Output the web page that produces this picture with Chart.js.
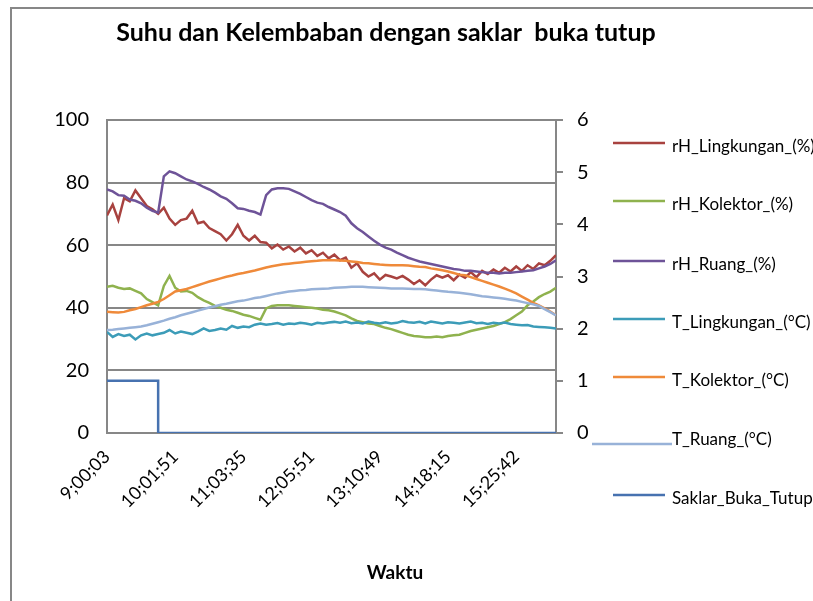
<!DOCTYPE html>
<html>
<head>
<meta charset="utf-8">
<script src="https://cdn.jsdelivr.net/npm/chart.js@4.4.0/dist/chart.umd.min.js"></script>
<style>
  html, body { margin: 0; padding: 0; background: #fff; }
</style>
</head>
<body>
<canvas id="chart" width="813" height="601"></canvas>
<script>
// time labels shown on the x axis, one every 12 samples
var tickLabels = ['9;00;03', '10;01;51', '11;03;35', '12;05;51', '13;10;49', '14;18;15', '15;25;42'];
var tickEvery = 12;

var rhLingkungan = [69.5, 73.0, 68.0, 75.0, 74.0, 77.5, 75.0, 72.5, 71.5, 70.0,
  72.0, 68.5, 66.5, 68.0, 68.5, 71.0, 67.0, 67.5, 65.5, 64.5,
  63.5, 61.5, 63.5, 66.5, 63.0, 61.5, 63.0, 61.0, 60.8, 59.0,
  60.2, 58.6, 59.6, 58.0, 59.2, 57.4, 58.4, 56.6, 57.6, 55.8,
  57.0, 55.2, 56.0, 52.8, 54.2, 51.5, 50.0, 51.0, 49.0, 50.5,
  50.0, 49.4, 50.2, 49.0, 47.6, 48.8, 47.2, 49.0, 50.4, 49.6,
  50.4, 48.8, 50.6, 49.6, 51.4, 49.8, 51.8, 50.8, 52.2, 51.2,
  52.8, 51.6, 53.2, 51.8, 53.6, 52.4, 54.2, 53.6, 55.0, 56.8];

var rhKolektor = [46.7, 47.0, 46.4, 46.0, 46.2, 45.4, 44.6, 42.8, 41.8, 40.8,
  47.0, 50.2, 46.4, 45.2, 45.4, 44.8, 43.4, 42.4, 41.6, 40.6,
  40.0, 39.4, 39.0, 38.4, 37.8, 37.4, 36.8, 36.2, 39.8, 40.6,
  40.8, 40.8, 40.8, 40.6, 40.4, 40.2, 40.0, 39.8, 39.4, 39.2,
  38.8, 38.2, 37.6, 36.6, 35.8, 35.4, 35.0, 34.8, 34.2, 33.6,
  33.2, 32.6, 32.0, 31.4, 31.0, 30.8, 30.6, 30.6, 30.8, 30.6,
  31.0, 31.2, 31.4, 32.0, 32.6, 33.0, 33.4, 33.8, 34.2, 34.8,
  35.4, 36.4, 37.6, 38.8, 40.8, 42.0, 43.4, 44.4, 45.2, 46.4];

var rhRuang = [77.8, 77.2, 76.0, 75.8, 74.6, 74.2, 73.4, 72.0, 71.0, 70.4,
  82.0, 83.6, 83.0, 82.0, 81.0, 80.4, 79.6, 78.6, 77.8, 76.8,
  75.6, 74.8, 73.4, 71.8, 71.6, 71.0, 70.6, 69.8, 76.0, 77.8,
  78.2, 78.2, 78.0, 77.2, 76.4, 75.4, 74.4, 73.6, 73.2, 72.2,
  71.4, 70.6, 69.4, 67.0, 65.4, 64.2, 62.8, 61.4, 60.2, 59.2,
  58.6, 57.6, 56.8, 56.0, 55.4, 54.8, 54.4, 54.0, 53.6, 53.2,
  52.8, 52.4, 52.2, 51.8, 51.8, 51.6, 51.4, 51.2, 51.2, 51.0,
  51.2, 51.2, 51.4, 51.6, 51.8, 52.0, 52.6, 53.2, 54.0, 55.2];

var tLingkungan = [32.3, 30.7, 31.6, 31.0, 31.4, 29.9, 31.2, 31.8, 31.2, 31.6,
  32.0, 32.9, 31.8, 32.4, 32.0, 31.6, 32.4, 33.4, 32.6, 32.9,
  33.4, 33.0, 34.2, 33.6, 34.0, 33.8, 34.6, 35.0, 34.6, 34.8,
  35.1, 34.6, 35.0, 34.8, 35.2, 35.0, 34.6, 35.2, 35.0, 35.3,
  35.5, 35.2, 35.6, 35.1, 35.3, 35.0, 35.6, 35.2, 35.0, 35.4,
  35.0, 35.2, 35.8, 35.4, 35.2, 35.5, 35.0, 35.6, 35.3, 35.0,
  35.4, 35.2, 35.0, 35.3, 35.6, 35.1, 35.2, 34.8, 35.2, 35.0,
  35.3, 34.8, 34.6, 34.4, 34.5, 34.0, 33.9, 33.8, 33.6, 33.4];

var tKolektor = [38.7, 38.6, 38.5, 38.7, 39.2, 39.6, 40.2, 40.8, 41.3, 41.9,
  42.8, 44.0, 45.2, 45.6, 46.0, 46.6, 47.2, 47.8, 48.4, 48.9,
  49.4, 49.9, 50.3, 50.8, 51.1, 51.5, 51.9, 52.4, 52.9, 53.3,
  53.6, 53.9, 54.1, 54.3, 54.5, 54.7, 54.9, 55.0, 55.2, 55.2,
  55.2, 55.1, 55.0, 54.8, 54.6, 54.3, 54.2, 54.0, 53.8, 53.7,
  53.6, 53.6, 53.6, 53.5, 53.3, 53.1, 53.0, 52.6, 52.3, 52.0,
  51.6, 51.1, 50.6, 50.4, 49.8, 49.2, 48.6, 48.0, 47.4, 46.8,
  46.1, 45.4, 44.6, 43.6, 42.6, 41.6, 40.8, 39.8, 38.8, 37.6];

var tRuang = [32.9, 33.0, 33.2, 33.4, 33.6, 33.8, 34.0, 34.4, 34.9, 35.4,
  35.9, 36.5, 37.0, 37.6, 38.1, 38.6, 39.1, 39.6, 40.1, 40.5,
  41.0, 41.3, 41.7, 42.1, 42.3, 42.7, 43.1, 43.4, 43.8, 44.2,
  44.6, 44.9, 45.2, 45.4, 45.6, 45.7, 45.9, 46.0, 46.1, 46.2,
  46.4, 46.5, 46.6, 46.7, 46.7, 46.7, 46.6, 46.5, 46.4, 46.3,
  46.2, 46.2, 46.2, 46.1, 46.0, 46.0, 45.9, 45.7, 45.5, 45.3,
  45.1, 45.0, 44.8, 44.6, 44.3, 44.0, 43.7, 43.5, 43.3, 43.1,
  42.9, 42.6, 42.3, 41.9, 41.5, 41.1, 40.6, 39.6, 38.6, 37.6];

var saklar = [1, 1, 1, 1, 1, 1, 1, 1, 1, 0,
  0, 0, 0, 0, 0, 0, 0, 0, 0, 0,
  0, 0, 0, 0, 0, 0, 0, 0, 0, 0,
  0, 0, 0, 0, 0, 0, 0, 0, 0, 0,
  0, 0, 0, 0, 0, 0, 0, 0, 0, 0,
  0, 0, 0, 0, 0, 0, 0, 0, 0, 0,
  0, 0, 0, 0, 0, 0, 0, 0, 0, 0,
  0, 0, 0, 0, 0, 0, 0, 0, 0, 0];

var sampleIndex = rhRuang.map(function (v, i) { return i; });
var gridGray = '#878787';
var fontName = 'Lato, "Open Sans", sans-serif';

function line(label, data, color, axis, order) {
  return {
    label: label,
    data: data,
    borderColor: color,
    backgroundColor: color,
    borderWidth: 2.5,
    pointRadius: 0,
    tension: 0,
    yAxisID: axis,
    order: order
  };
}

// legend rows (line y, line start x) drawn by hand like the excel legend
var legendRows = [
  { y: 143, x0: 613 },
  { y: 201, x0: 613 },
  { y: 261, x0: 613 },
  { y: 319, x0: 613 },
  { y: 377, x0: 613 },
  { y: 444, x0: 592, x1: 672, ty: 440 },
  { y: 495, x0: 613 }
];

var decorations = {
  id: 'decorations',
  beforeDraw: function (chart) {
    var ctx = chart.ctx;
    ctx.save();
    ctx.fillStyle = '#fff';
    ctx.fillRect(0, 0, chart.width, chart.height);
    ctx.strokeStyle = gridGray;
    ctx.lineWidth = 2;
    ctx.strokeRect(11, 8, chart.width + 20, chart.height + 20);
    ctx.restore();
  },
  afterDraw: function (chart) {
    var ctx = chart.ctx;
    ctx.save();
    ctx.fillStyle = '#000';
    ctx.textAlign = 'center';
    ctx.textBaseline = 'middle';
    ctx.font = 'bold 25px ' + fontName;
    ctx.fillText('Suhu dan Kelembaban dengan saklar  buka tutup', 386, 33);
    ctx.font = 'bold 19px ' + fontName;
    ctx.fillText('Waktu', 395, 573);

    ctx.textAlign = 'left';
    ctx.font = '17px ' + fontName;
    chart.data.datasets.forEach(function (ds, i) {
      var row = legendRows[i];
      ctx.strokeStyle = ds.borderColor;
      ctx.lineWidth = 2.5;
      ctx.beginPath();
      ctx.moveTo(row.x0, row.y);
      ctx.lineTo(row.x1 || 665, row.y);
      ctx.stroke();
      ctx.fillText(ds.label, 672, row.ty || row.y + 4);
    });
    ctx.restore();
  }
};

new Chart(document.getElementById('chart'), {
  type: 'line',
  data: {
    labels: sampleIndex,
    datasets: [
      line('rH_Lingkungan_(%)', rhLingkungan, '#A8423F', 'y', 7),
      line('rH_Kolektor_(%)', rhKolektor, '#8FB24E', 'y', 6),
      line('rH_Ruang_(%)', rhRuang, '#6E5398', 'y', 5),
      line('T_Lingkungan_(°C)', tLingkungan, '#3C9CB8', 'y', 4),
      line('T_Kolektor_(°C)', tKolektor, '#EF8A3A', 'y', 3),
      line('T_Ruang_(°C)', tRuang, '#98B2D8', 'y', 2),
      Object.assign(line('Saklar_Buka_Tutup', saklar, '#4772B0', 'y1', 1), { stepped: true })
    ]
  },
  options: {
    responsive: false,
    animation: false,
    devicePixelRatio: 1,
    layout: { padding: { top: 120, left: 0, right: 0, bottom: 0 } },
    plugins: {
      legend: { display: false },
      title: { display: false },
      tooltip: { enabled: false }
    },
    scales: {
      x: {
        type: 'linear',
        min: 0,
        max: sampleIndex.length - 1,
        afterFit: function (s) { s.height = 168; },
        grid: { display: false, drawTicks: false },
        border: { display: true, color: gridGray, width: 2 },
        ticks: {
          stepSize: tickEvery,
          autoSkip: false,
          minRotation: 45,
          maxRotation: 45,
          padding: 13,
          color: '#000',
          font: { family: fontName, size: 18 },
          callback: function (v) { return tickLabels[v / tickEvery]; }
        }
      },
      y: {
        position: 'left',
        min: 0,
        max: 100,
        afterFit: function (s) { s.width = 107; },
        grid: { color: gridGray, lineWidth: 2, drawTicks: false },
        border: { display: true, color: gridGray, width: 2 },
        ticks: {
          stepSize: 20,
          padding: 18,
          color: '#000',
          font: { family: fontName, size: 20 }
        }
      },
      y1: {
        position: 'right',
        min: 0,
        max: 6,
        afterFit: function (s) { s.width = 257; },
        grid: { drawOnChartArea: false, drawTicks: true, tickLength: 7, color: gridGray, lineWidth: 2 },
        border: { display: true, color: gridGray, width: 2 },
        ticks: {
          stepSize: 1,
          padding: 14,
          color: '#000',
          font: { family: fontName, size: 20 }
        }
      }
    }
  },
  plugins: [decorations]
});
</script>
</body>
</html>
